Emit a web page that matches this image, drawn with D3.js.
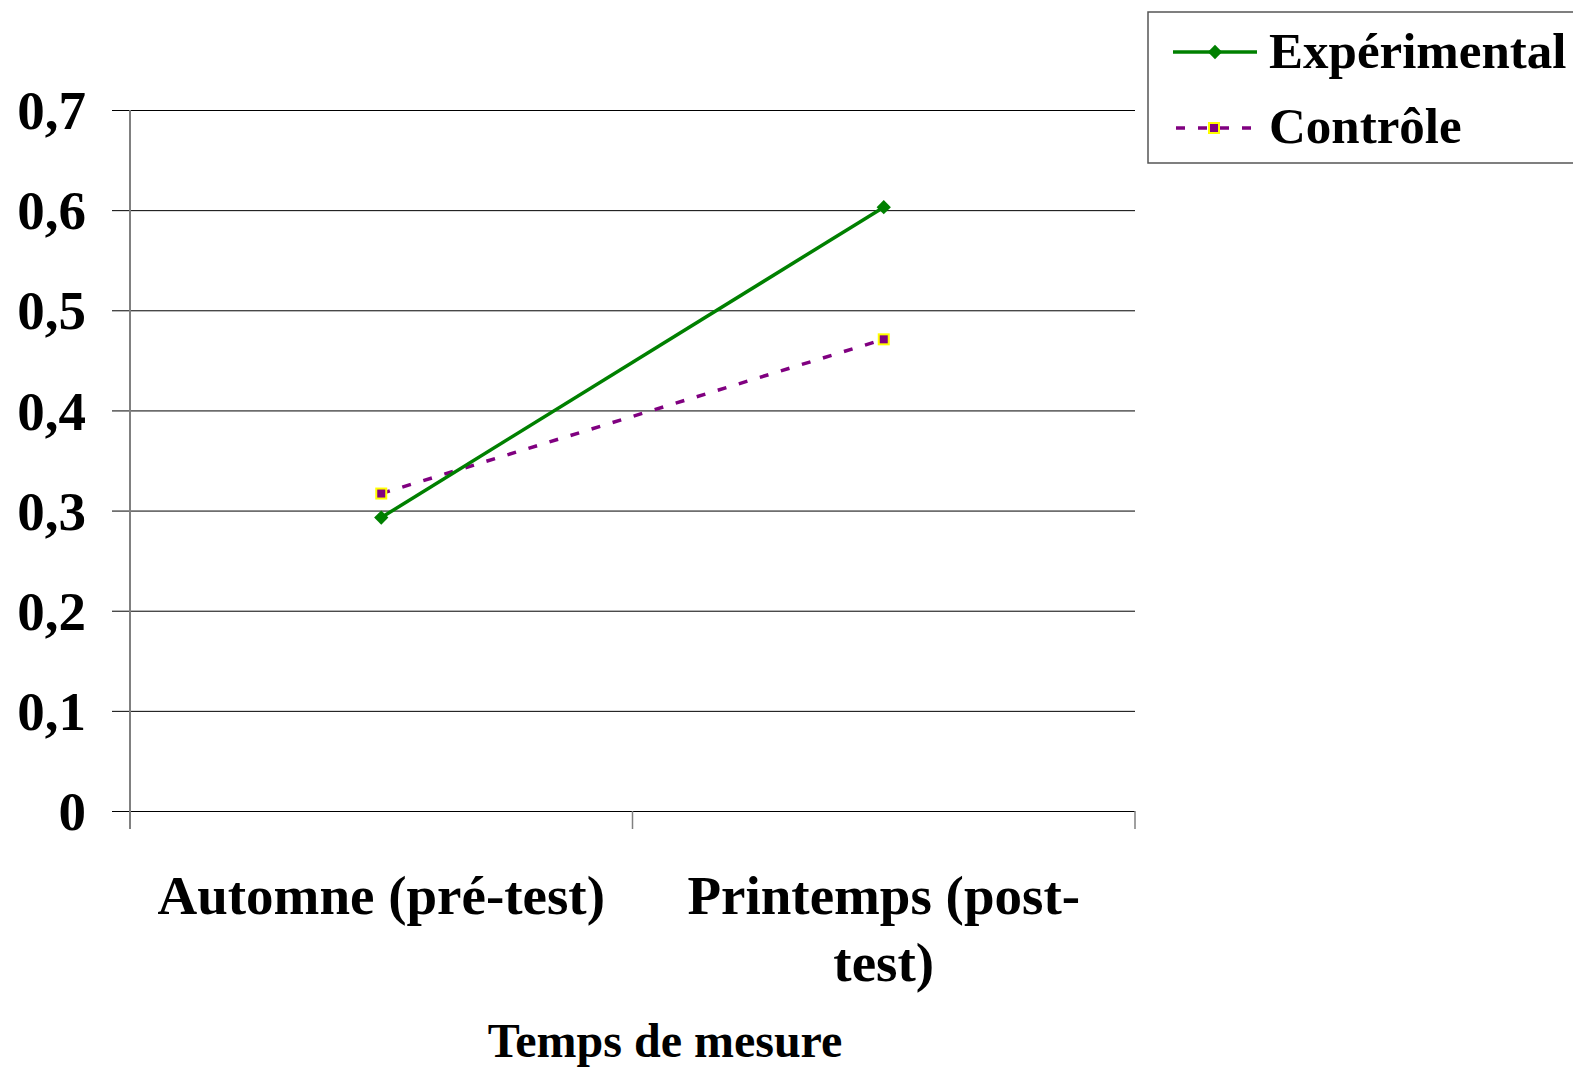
<!DOCTYPE html>
<html>
<head>
<meta charset="utf-8">
<script src="https://cdn.jsdelivr.net/npm/d3@7"></script>
<style>
  body { margin: 0; background: #fff; }
  text { font-family: "Liberation Serif", "Times New Roman", serif; font-weight: bold; }
</style>
</head>
<body>
<svg id="chart"></svg>
<script>
// Data
const categories = ['Automne (pré-test)', 'Printemps (post-test)'];
const experimental = [0.293, 0.603];
const controle = [0.317, 0.471];
const yTicks = [0, 0.1, 0.2, 0.3, 0.4, 0.5, 0.6, 0.7];

const width = 1573, height = 1069;
const marginLeft = 130, marginRight = 438, marginTop = 110, marginBottom = 258;

const svg = d3.select('#chart')
  .attr('width', width)
  .attr('height', height)
  .attr('viewBox', [0, 0, width, height]);

const x = d3.scaleBand(categories, [marginLeft, width - marginRight]);
const y = d3.scaleLinear([0, 0.7], [height - marginBottom, marginTop]);
const fmt = d => d === 0 ? '0' : d3.format('.1f')(d).replace('.', ',');

// Gridlines + y axis
svg.append('g')
  .attr('transform', `translate(${marginLeft},0)`)
  .call(d3.axisLeft(y).tickValues(yTicks).tickFormat(fmt).tickSize(18).tickPadding(26))
  .call(g => g.select('.domain').remove())
  .call(g => g.selectAll('.tick line')
    .attr('x1', width - marginLeft - marginRight)
    .attr('x2', -18)
    .attr('stroke', '#000')
    .attr('stroke-width', 1))
  .call(g => g.selectAll('.tick text')
    .attr('font-size', 55)
    .attr('dy', '0.34em')
    .attr('fill', '#000')
    .attr('font-family', '"Liberation Serif", serif')
    .attr('font-weight', 'bold'));

// y axis line
svg.append('line')
  .attr('x1', marginLeft).attr('x2', marginLeft)
  .attr('y1', marginTop).attr('y2', y(0) + 18)
  .attr('stroke', '#808080').attr('stroke-width', 2);

// x axis ticks at band edges
const edges = [marginLeft, ...categories.map(c => x(c) + x.bandwidth())];
svg.append('g')
  .selectAll('line')
  .data(edges)
  .join('line')
  .attr('x1', d => d).attr('x2', d => d)
  .attr('y1', y(0)).attr('y2', y(0) + 18)
  .attr('stroke', '#808080').attr('stroke-width', 1.5);

// x labels
const xLabelLines = [['Automne (pré-test)'], ['Printemps (post-', 'test)']];
svg.append('g')
  .selectAll('text')
  .data(categories)
  .join('text')
  .attr('x', d => x(d) + x.bandwidth() / 2)
  .attr('y', 914)
  .attr('text-anchor', 'middle')
  .attr('font-size', 55)
  .call(t => t.selectAll('tspan')
    .data((d, i) => xLabelLines[i])
    .join('tspan')
    .attr('x', function() { return this.parentNode.getAttribute('x'); })
    .attr('dy', (d, i) => i === 0 ? 0 : 67)
    .text(d => d));

// x title
svg.append('text')
  .attr('x', 665).attr('y', 1057)
  .attr('text-anchor', 'middle')
  .attr('font-size', 48)
  .text('Temps de mesure');

const cx = (d, i) => x(categories[i]) + x.bandwidth() / 2;
const line = d3.line().x(cx).y(d => y(d));

// Control series
svg.append('path')
  .datum(controle)
  .attr('d', line)
  .attr('fill', 'none')
  .attr('stroke', '#800080')
  .attr('stroke-width', 3.5)
  .attr('stroke-dasharray', '9,13');
svg.append('g')
  .selectAll('rect')
  .data(controle)
  .join('rect')
  .attr('x', (d, i) => cx(d, i) - 5)
  .attr('y', d => y(d) - 5)
  .attr('width', 10).attr('height', 10)
  .attr('fill', '#800080')
  .attr('stroke', '#ffff00').attr('stroke-width', 2);

// Experimental series
svg.append('path')
  .datum(experimental)
  .attr('d', line)
  .attr('fill', 'none')
  .attr('stroke', '#008000')
  .attr('stroke-width', 3.5);
const diamond = d3.symbol(d3.symbolDiamond2, 130);
svg.append('g')
  .selectAll('path')
  .data(experimental)
  .join('path')
  .attr('transform', (d, i) => `translate(${cx(d, i)},${y(d)})`)
  .attr('d', diamond)
  .attr('fill', '#008000');

// Legend
const legend = svg.append('g');
legend.append('rect')
  .attr('x', 1148).attr('y', 12)
  .attr('width', 440).attr('height', 151)
  .attr('fill', '#fff')
  .attr('stroke', '#555').attr('stroke-width', 1.5);

legend.append('line')
  .attr('x1', 1173).attr('x2', 1257).attr('y1', 52).attr('y2', 52)
  .attr('stroke', '#008000').attr('stroke-width', 3.5);
legend.append('path')
  .attr('transform', 'translate(1215,52)')
  .attr('d', diamond)
  .attr('fill', '#008000');
legend.append('text')
  .attr('x', 1269).attr('y', 68)
  .attr('font-size', 51)
  .text('Expérimental');

legend.append('line')
  .attr('x1', 1176).attr('x2', 1257).attr('y1', 128).attr('y2', 128)
  .attr('stroke', '#800080').attr('stroke-width', 3.5)
  .attr('stroke-dasharray', '9,13');
legend.append('rect')
  .attr('x', 1209).attr('y', 123)
  .attr('width', 10).attr('height', 10)
  .attr('fill', '#800080')
  .attr('stroke', '#ffff00').attr('stroke-width', 2);
legend.append('text')
  .attr('x', 1269).attr('y', 143)
  .attr('font-size', 51)
  .text('Contrôle');
</script>
</body>
</html>
